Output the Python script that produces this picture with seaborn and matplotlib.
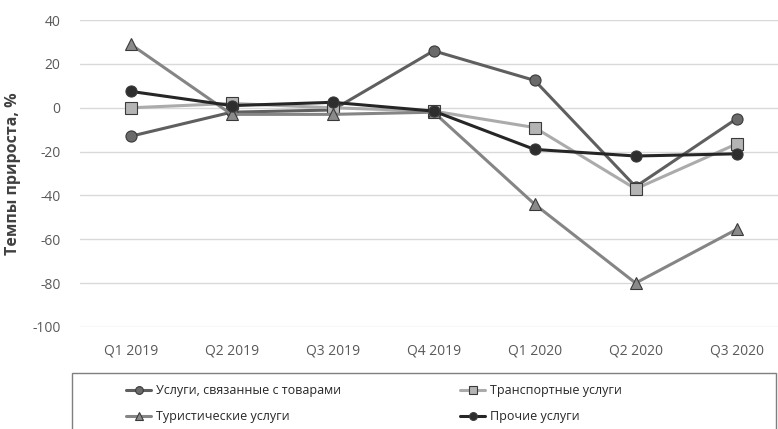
import pandas as pd
import numpy as np
import matplotlib
matplotlib.use("Agg")
import matplotlib.pyplot as plt
import seaborn as sns
from matplotlib.patches import Rectangle

quarters = ['Q1 2019', 'Q2 2019', 'Q3 2019', 'Q4 2019', 'Q1 2020', 'Q2 2020', 'Q3 2020']
goods = [-13, -2, -1, 26, 12.5, -36, -5]
transport = [0, 2, 0, -1.5, -9, -37, -16.5]
tourism = [29, -3, -3, -2, -44, -80, -55.5]
other = [7.5, 1, 2.5, -1.5, -19, -22, -21]

names = ['Услуги, связанные с товарами', 'Транспортные услуги',
         'Туристические услуги', 'Прочие услуги']
series = [goods, transport, tourism, other]

# long-form table for seaborn
df = pd.concat([pd.DataFrame({'x': range(len(quarters)), 'value': v, 'series': n})
                for n, v in zip(names, series)], ignore_index=True)

sns.set_theme(style="white")
plt.rcParams['font.family'] = ['Open Sans', 'DejaVu Sans']
plt.rcParams['axes.unicode_minus'] = False

line_colors = {names[0]: '#5f5f5f', names[1]: '#ababab', names[2]: '#858585', names[3]: '#262626'}
marker_face = {names[0]: '#6a6a6a', names[1]: '#b4b4b4', names[2]: '#8a8a8a', names[3]: '#2e2e2e'}
markers = {names[0]: 'o', names[1]: 's', names[2]: '^', names[3]: 'o'}

fig = plt.figure(figsize=(7.78, 4.29), dpi=100)
ax = fig.add_axes([0.103, 0.238, 0.897, 0.715])

for n in names:
    sub = df[df['series'] == n]
    sns.lineplot(data=sub, x='x', y='value', ax=ax, color=line_colors[n], linewidth=2.2,
                 marker=markers[n], markersize=8, markerfacecolor=marker_face[n],
                 markeredgecolor='#3a3a3a', markeredgewidth=0.8, label=n, sort=False)

ax.set_ylim(-100, 40)
ax.set_yticks(np.arange(-100, 41, 20))
ax.set_xlim(-0.5, 6.41)
ax.set_xticks(range(len(quarters)))
ax.set_xticklabels(quarters)
ax.yaxis.grid(True, color='#d9d9d9', linewidth=1)
ax.set_axisbelow(True)
for s in ax.spines.values():
    s.set_visible(False)
ax.tick_params(axis='both', length=0, labelsize=10, labelcolor='#595959')
ax.tick_params(axis='x', pad=12)
ax.tick_params(axis='y', pad=14)
ax.set_xlabel('')
ax.set_ylabel('Темпы прироста, %', fontsize=11.5, color='#404040', fontweight='bold', labelpad=8)

handles, labels = ax.get_legend_handles_labels()
ax.get_legend().remove()
order = [0, 2, 1, 3]
fig.legend([handles[i] for i in order], [labels[i] for i in order], ncol=2,
           loc='upper left', bbox_to_anchor=(0.148, 0.13), frameon=False,
           fontsize=9, handlelength=2.0, columnspacing=9.5, labelspacing=1.0,
           handletextpad=0.4, markerscale=0.7)
fig.patches.append(Rectangle((0.093, -0.05), 0.905, 0.18, transform=fig.transFigure,
                             fill=False, edgecolor='#7f7f7f', linewidth=1))

fig.savefig('out.png', dpi=100)
